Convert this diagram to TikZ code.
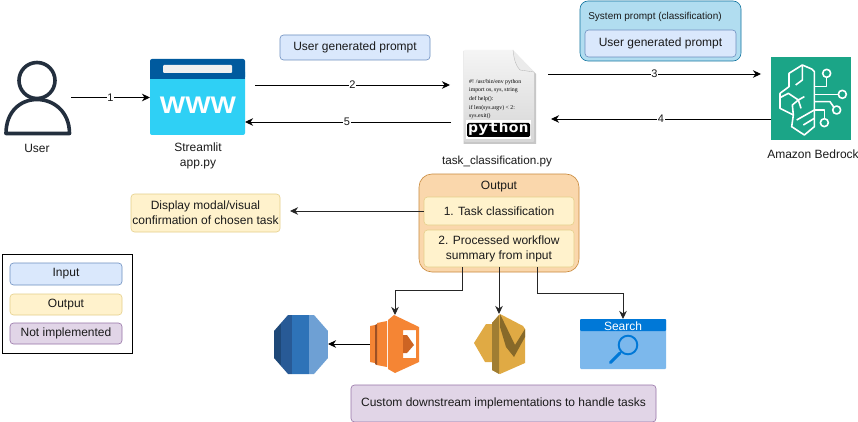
\documentclass[tikz,border=0pt]{standalone}
\usepackage{fontspec}
\setmainfont{Liberation Sans}
\newfontfamily\pyserif{Liberation Serif}
\newfontfamily\pymono{DejaVu Sans Mono}
\usetikzlibrary{arrows.meta,calc}
\definecolor{inb}{HTML}{DAE8FC}\definecolor{inl}{HTML}{6C8EBF}
\definecolor{outb}{HTML}{FFF2CC}\definecolor{outl}{HTML}{E5CF8A}
\definecolor{npb}{HTML}{E1D5E7}\definecolor{npl}{HTML}{9673A6}
\definecolor{sysb}{HTML}{B1DDF0}\definecolor{sysl}{HTML}{10739E}
\definecolor{outerb}{HTML}{FAD7AC}\definecolor{outerl}{HTML}{C98A3C}
\definecolor{txt}{HTML}{1A1A1A}
\definecolor{userc}{RGB}{35,47,62}
\definecolor{wwwl}{RGB}{47,208,245}
\definecolor{wwwd}{RGB}{0,90,158}
\definecolor{bedc}{RGB}{27,165,135}
\definecolor{rds1}{RGB}{30,72,120}
\definecolor{rds2}{RGB}{40,90,150}
\definecolor{rds3}{RGB}{46,115,184}
\definecolor{rds4}{RGB}{110,160,212}
\definecolor{lam1}{RGB}{245,133,52}
\definecolor{lam2}{RGB}{157,80,37}
\definecolor{lam3}{RGB}{205,100,35}
\definecolor{ses1}{RGB}{224,170,68}
\definecolor{ses2}{RGB}{135,105,41}
\definecolor{ses3}{RGB}{160,125,50}
\definecolor{srb}{RGB}{124,184,236}
\definecolor{srd}{RGB}{0,120,215}
\tikzset{
 x=1pt,y=-1pt,
 every node/.style={font=\fontsize{12}{15}\selectfont,text=txt,inner sep=0pt,outer sep=0pt,align=center},
 box/.style={draw,rounded corners=3.5pt,line width=.6pt,anchor=north west},
 inputbox/.style={box,fill=inb,draw=inl},
 outputbox/.style={box,fill=outb,draw=outl},
 npbox/.style={box,fill=npb,draw=npl},
 spot/.style={anchor=north west},
 conn/.style={line width=.9pt,draw=black,-{Stealth[length=8pt,width=7.5pt,inset=2.5pt]}},
 flow/.style={conn,draw=black!85},
 num/.style={fill=white,font=\fontsize{11}{13}\selectfont,inner sep=.8pt},
 caption/.style={font=\fontsize{12}{15}\selectfont},
}
\newcommand{\boxat}[6]{\node[#1,minimum width=#4pt,minimum height=#5pt] (#2) at #3 {#6};}
\begin{document}
\begin{tikzpicture}
\useasboundingbox (0,0) rectangle (858,422);
\fill[white] (0,0) rectangle (858,422);

% icon anchor nodes
\node[spot,minimum width=65pt,minimum height=75pt] (user) at (6,60) {};
\node[spot,minimum width=95pt,minimum height=76pt] (web) at (150,59) {};
\node[spot,minimum width=71pt,minimum height=93pt] (py) at (464,50) {};
\node[spot,minimum width=80pt,minimum height=83pt] (bed) at (771,57) {};
\node[spot,minimum width=54pt,minimum height=60pt] (rds) at (274,314) {};
\node[spot,minimum width=50pt,minimum height=60pt] (lam) at (370,315) {};
\node[spot,minimum width=52pt,minimum height=60pt] (ses) at (474,314) {};
\node[spot,minimum width=86pt,minimum height=50pt] (srch) at (580,319) {};

% user
\draw[line width=3.6pt,userc] (37,80.5) circle (18);
\draw[line width=3.6pt,line join=round,userc] (6,133.5) .. controls (6,112) and (20,99.5) .. (37,99.5) .. controls (54,99.5) and (69.5,112) .. (69.5,133.5) -- cycle;
\node[caption] (userl) at (37,148) {User};

% www
\fill[rounded corners=2pt,wwwl] (150,70) rectangle (245,135);
\fill[rounded corners=2pt,wwwd] (150,59) rectangle (245,79);
\fill[wwwd] (150,74) rectangle (245,79);
\fill[rounded corners=1pt,black!6] (163,65) rectangle (232,73);
\node[text=white,xscale=1.12,font=\fontsize{24}{26}\bfseries\selectfont] (wwwt) at (198,105.5) {WWW};
\node[caption] (webl) at (198,155.5) {Streamlit\\[-.2pt]app.py};

% python file
\fill[black!22] (463.5,51) -- (513,51) -- (536,74) -- (536,144) -- (463.5,144) -- cycle;
\shade[top color=black!4,bottom color=black!16,rounded corners=1pt] (464,50) -- (513,50) -- (534,72) -- (534,142) -- (464,142) -- cycle;
\fill[black!8] (513,50) -- (534,72) -- (520,70) .. controls (516,66) and (514,60) .. (513,50) -- cycle;
\draw[black!30,line width=.3pt] (513,50) .. controls (514,60) and (516,66) .. (520,70) -- (534,72);
\begin{scope}[every node/.style={font=\pyserif\fontsize{5.8}{6}\selectfont,anchor=west,text=black,inner sep=0pt}]
\node (p1) at (469,82) {\#! /usr/bin/env python};
\node (p2) at (469,90.5) {import os, sys, string};
\node (p3) at (469,99) {def help():};
\node (p4) at (469,108) {if len(sys.argv) < 2:};
\node (p5) at (469,116.5) {sys.exit()};
\end{scope}
\fill[white] (466,120) rectangle (531,139);
\fill[black,rounded corners=1.5pt] (467,123) rectangle (530,137);
\node[text=white,xscale=1.2,font=\pymono\bfseries\fontsize{14}{14}\selectfont] (pyt) at (498.5,129) {python};
\node[caption,font=\fontsize{11.7}{15}\selectfont] (pyl) at (497,161) {task\_classification.py};

% bedrock
\fill[bedc] (771,57.5) rectangle (851,140.5);
\begin{scope}[shift={(765,55)},scale=1/3,white,line width=1.6pt,line join=round]
\draw (112,30) -- (140,42) -- (148,50) -- (148,215) -- (118,240) -- (80,215) -- (85,180) -- (45,160) -- (45,115) -- (72,95) -- (72,55) -- cycle;
\draw (112,30) -- (112,75) -- (92,90);
\draw (45,128) -- (70,115) -- (100,135) -- (118,125);
\draw (100,135) -- (82,150) -- (85,180);
\draw (100,135) -- (108,160);
\draw (148,165) -- (95,195);
\draw (148,190) -- (115,210);
\draw (148,95) -- (185,95) -- (185,67);
\draw (185,55) circle (12);
\draw (148,118) -- (220,118);
\draw (232,118) circle (12);
\draw (148,140) -- (195,140) -- (206,156);
\draw (215,165) circle (12);
\draw (148,165) -- (178,165) -- (178,191);
\draw (178,203) circle (12);
\end{scope}
\node[caption] (bedl) at (813,154) {Amazon Bedrock};

% prompts
\boxat{inputbox}{ugp}{(280,35)}{150}{25}{User generated prompt}
\node[box,fill=sysb,draw=sysl,rounded corners=8pt,minimum width=161pt,minimum height=60pt] (sys) at (580,1) {};
\node[font=\fontsize{10}{12}\selectfont] (syst) at (655,17) {System prompt (classification)};
\boxat{inputbox}{ugp2}{(585,30)}{151}{27}{User generated prompt}

% output group
\node[box,fill=outerb,draw=outerl,rounded corners=13pt,minimum width=160pt,minimum height=98pt] (out) at (419,174) {};
\node (outt) at (499,187) {Output};
\boxat{outputbox}{o1}{(424,197)}{150}{28}{1. Task classification}
\boxat{outputbox}{o2}{(424,230)}{150}{37}{2. Processed workflow\\summary from input}
\boxat{outputbox}{disp}{(131,194)}{149}{38}{Display modal/visual\\confirmation of chosen task}

% legend
\node[spot,draw=black,line width=.8pt,minimum width=130pt,minimum height=99pt] (leg) at (2,254) {};
\boxat{inputbox}{l1}{(10,263)}{112}{22}{Input}
\boxat{outputbox}{l2}{(10,294)}{112}{21}{Output}
\boxat{npbox}{l3}{(10,323)}{112}{21}{Not implemented}

% rds
\begin{scope}
\clip (274,331) -- (288,315) -- (314,315) -- (328,331) -- (328,358) -- (314,374) -- (288,374) -- (274,358) -- cycle;
\fill[rds1] (274,314) rectangle (281,375);
\fill[rds2] (281,314) rectangle (292,375);
\fill[rds3] (292,314) rectangle (309,375);
\fill[rds4] (309,314) rectangle (328,375);
\end{scope}

% lambda
\fill[lam1] (370,326) -- (375,325) -- (375,363) -- (370,362) -- cycle;
\fill[lam1] (377,323) -- (387,321) -- (387,367) -- (377,365) -- cycle;
\fill[lam2] (375,325) -- (377,324) -- (377,365) -- (375,364) -- cycle;
\fill[lam1,even odd rule] (388,320) -- (394,315) -- (419,327) -- (419,362) -- (395,373) -- (388,369) -- cycle (403,330) -- (403,358) -- (416,358) -- (416,330) -- cycle;
\fill[lam3] (403,335) -- (407,335) -- (414,345) -- (407,353) -- (403,353) -- cycle;

% ses
\fill[ses1] (474,343) -- (486,324) -- (492,324) -- (492,362) -- (485,362) -- cycle;
\fill[ses1] (492,323) -- (500,314) -- (523,326) -- (525,329) -- (525,363) -- (500,374) -- (492,370) -- cycle;
\fill[ses2] (500,314) -- (515,345) -- (525,329) -- (525,337) -- (514,357) -- (506,347) -- (500,327) -- cycle;
\fill[ses3] (492,323) -- (499,315) -- (499,374) -- (492,370) -- cycle;

% search
\fill[rounded corners=1pt,srb] (580,319) rectangle (666,369);
\fill[rounded corners=1pt,srd] (580,319) rectangle (666,331);
\node[text=white] (srcht) at (623,326) {Search};
\draw[line width=1.9pt,srd] (628,345) circle (9.3);
\draw[line width=3pt,line cap=round,srd] (620,353) -- (610.5,362.5);

% not implemented note
\boxat{npbox}{cust}{(351,385)}{305}{37}{Custom downstream implementations to handle tasks}

% connectors
\draw[conn] (user.east) -- node[num] (n1) {1} (web.west |- user.east);
\draw[conn] ([xshift=10pt,yshift=12pt]web.east) -- node[num] (n2) {2} ([xshift=-14pt,yshift=11.5pt]py.west);
\draw[conn] ([xshift=-13pt,yshift=-25.5pt]py.west) -- node[num,pos=.505] (n5) {5} ([yshift=-25pt]web.east);
\draw[conn] ([xshift=13pt,yshift=22.5pt]py.east) -- node[num] (n3) {3} ([xshift=-10pt,yshift=24.5pt]bed.west);
\draw[conn] ([yshift=-20.5pt]bed.west) -- node[num,pos=.5] (n4) {4} ([xshift=16pt,yshift=-22.5pt]py.east);
\draw[flow] (o1.west) -- ([xshift=10pt]disp.east |- o1.west);
\draw[flow] ([xshift=-37pt]o2.south) -- ++(0,23) -| (lam.north);
\draw[flow] (o2.south) -- (ses.north -| o2.south);
\draw[flow] ([xshift=38pt]o2.south) -- ++(0,26) -| (srch.north);
\draw[conn] (lam.west |- 0,344) -- (rds.east |- 0,344);
\end{tikzpicture}
\end{document}
